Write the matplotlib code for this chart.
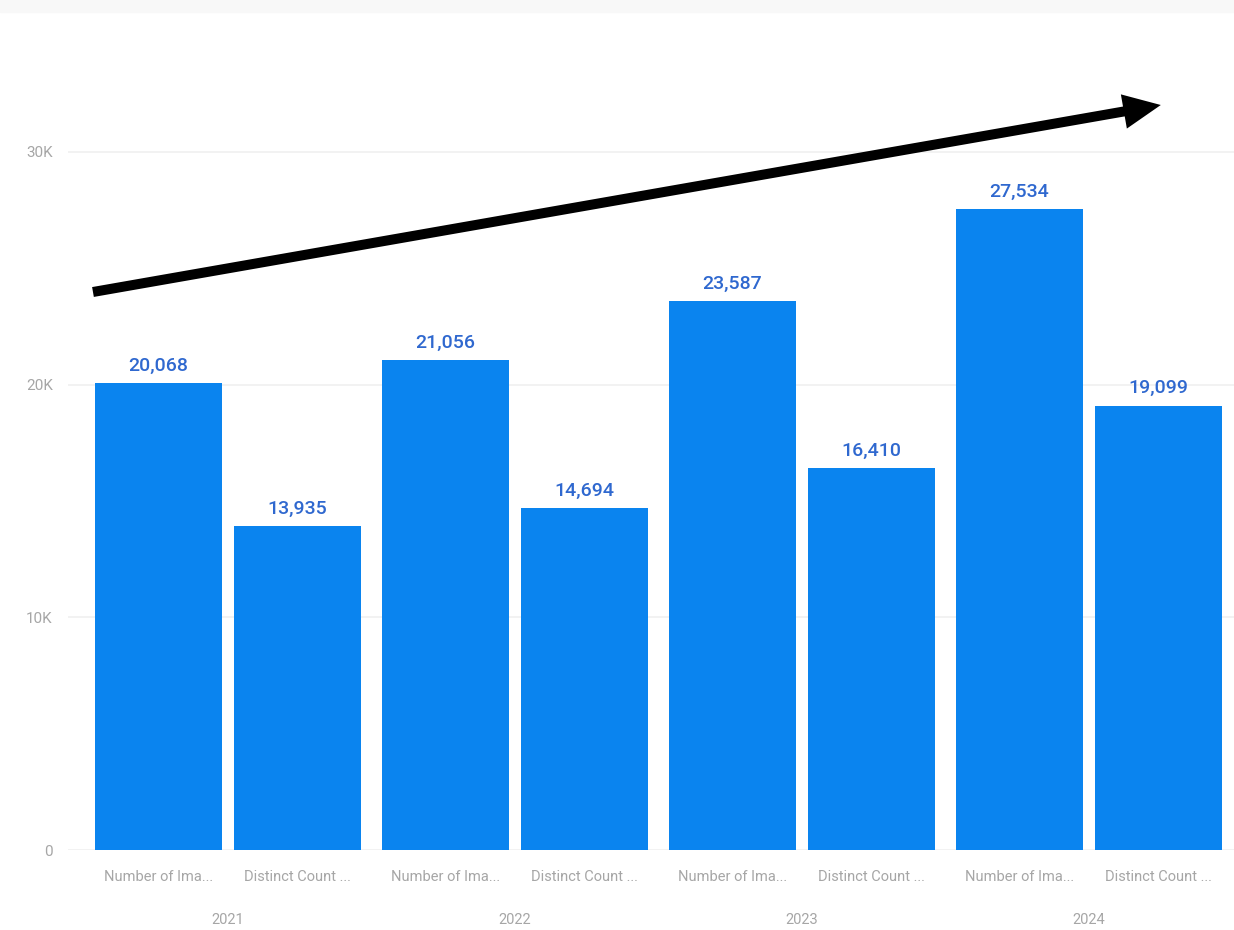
import matplotlib.pyplot as plt
from matplotlib.ticker import FuncFormatter
import numpy as np

plt.rcParams['font.family'] = ['Roboto', 'DejaVu Sans']

# Yearly counts: total images vs distinct count
years = ["2021", "2022", "2023", "2024"]
series_names = ["Number of Ima...", "Distinct Count ..."]
num_images = [20068, 21056, 23587, 27534]
distinct_count = [13935, 14694, 16410, 19099]

BAR_COLOR = "#0a84ef"
LABEL_COLOR = "#2f68cf"
TICK_COLOR = "#a6a6a6"

fig = plt.figure(figsize=(12.34, 9.30), dpi=100)
# axes spans from y=850px (value 0) up to y=30px
ax = fig.add_axes([68 / 1234, 1 - 850 / 930, 1 - 68 / 1234, (850 - 30) / 930])
ax_h = 820  # axes height in px

x = np.arange(len(years))
offset = 0.242
width = 0.4425

bars1 = ax.bar(x - offset, num_images, width, color=BAR_COLOR, zorder=2)
bars2 = ax.bar(x + offset, distinct_count, width, color=BAR_COLOR, zorder=2)

for bars, vals in ((bars1, num_images), (bars2, distinct_count)):
    for b, v in zip(bars, vals):
        ax.annotate(f"{v:,}", (b.get_x() + b.get_width() / 2, v),
                    xytext=(0, 6), textcoords="offset points",
                    ha="center", va="bottom", fontsize=14,
                    fontweight="medium", color=LABEL_COLOR)

px_per_unit = 232.7 / 10000
ax.set_xlim(-0.557, 3.505)
ax.set_ylim(0, ax_h / px_per_unit)
ax.set_yticks([0, 10000, 20000, 30000])
ax.yaxis.set_major_formatter(FuncFormatter(lambda v, p: "0" if v == 0 else f"{int(v / 1000)}K"))
ax.tick_params(axis="y", length=0, pad=11, labelsize=11, labelcolor=TICK_COLOR)
ax.grid(axis="y", color="#f0f0f0", linewidth=1.2, zorder=0)
for s in ax.spines.values():
    s.set_visible(False)

# two-level category axis: series name under each bar, year under each pair
ax.set_xticks([])
for i, yr in enumerate(years):
    for j, name in enumerate(series_names):
        xi = i + (j * 2 - 1) * offset
        ax.text(xi, -27 / ax_h, name, transform=ax.get_xaxis_transform(),
                ha="center", va="center", fontsize=10.5, color=TICK_COLOR)
    ax.text(i, -70 / ax_h, yr, transform=ax.get_xaxis_transform(),
            ha="center", va="center", fontsize=10.5, color=TICK_COLOR)

# trend arrow
ax.annotate("", xy=(3.250, (850 - 105) / px_per_unit),
            xytext=(-0.470, (850 - 292) / px_per_unit),
            arrowprops=dict(arrowstyle="simple,head_length=2.7,head_width=2.5,tail_width=0.72",
                            mutation_scale=10, fc="black", ec="none", lw=0,
                            shrinkA=0, shrinkB=0),
            annotation_clip=False, zorder=5)

# faint strip across the top edge
fig.patches.append(plt.Rectangle((0, 1 - 12 / 930), 1, 12 / 930,
                                 transform=fig.transFigure, color="#f8f8f8", zorder=0))

fig.savefig("out.png", dpi=100)
